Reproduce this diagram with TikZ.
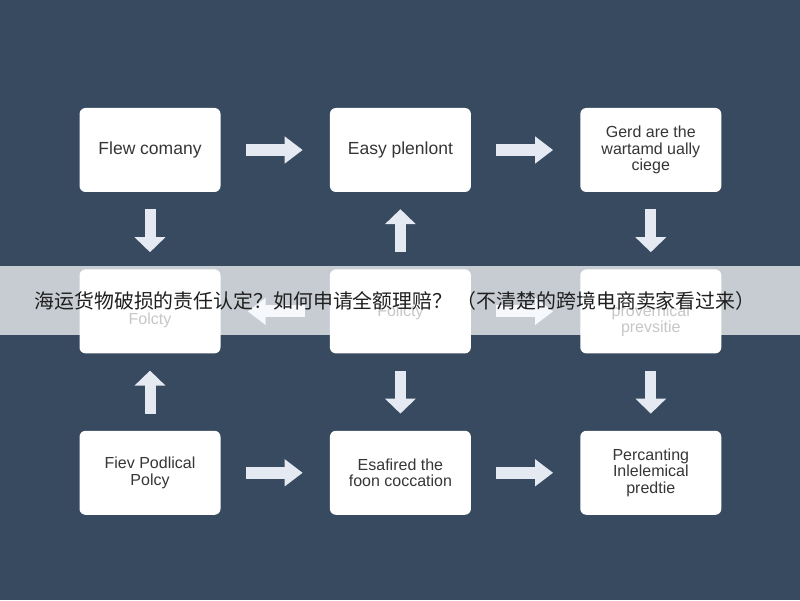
\documentclass[tikz,border=0pt]{standalone}
\usepackage{fontspec}
\setmainfont{Liberation Sans}
\newfontfamily\cjk{Noto Sans CJK SC}
\usepackage{tikz}
\usetikzlibrary{arrows.meta, positioning, calc}
\definecolor{bgblue}{HTML}{374A5F}
\definecolor{arrwhite}{HTML}{E4E9F2}
\definecolor{boxtext}{HTML}{363636}
\tikzset{%
	box/.style={draw=none, fill=white, rectangle, rounded corners=6pt, minimum width=141pt,%
		minimum height=84pt, inner sep=0pt, align=center, text=boxtext, font=\fontsize{17.5}{18}\selectfont},
	multi/.style={font=\fontsize{16}{16.5}\selectfont},
	lbl/.style={text=boxtext, align=center, inner sep=0pt, font=\fontsize{16}{16.5}\selectfont},
	harr/.style={draw=arrwhite, line width=12pt, -{Triangle[width=26pt,length=18pt]},%
		shorten <=25pt, shorten >=27pt},
	varr/.style={draw=arrwhite, line width=11pt, -{Triangle[width=30pt,length=15pt]},%
		shorten <=17pt, shorten >=17pt},
	band/.style={fill=white, fill opacity=0.72, draw=none, minimum width=800pt, minimum height=69pt},
	title/.style={text=black!88, inner sep=0pt, font=\cjk\fontsize{19.9}{22}\selectfont}
}
\begin{document}
\begin{tikzpicture}
	\fill[bgblue] (0,0) rectangle (800pt,600pt);
	\useasboundingbox (0,0) rectangle (800pt,600pt);

	\node[box] (b1) at (150pt,450pt) {Flew comany};
	\node[box, right=109pt of b1] (b2) {Easy plenlont};
	\node[box, multi, right=109pt of b2] (b3) {Gerd are the\\wartamd ually\\ciege};
	\node[box, below=77pt of b1] (b4) {};
	\node[box, below=77pt of b2] (b5) {};
	\node[box, below=77pt of b3] (b6) {};
	\node[box, multi, below=77pt of b4] (b7) {Fiev Podlical\\Polcy};
	\node[box, multi, below=77pt of b5] (b8) {Esafired the\\foon coccation};
	\node[box, multi, below=77pt of b6] (b9) {Percanting\\Inlelemical\\predtie};

	\node[lbl] (t4) at ([yshift=-9pt]b4.center) {Folcty};
	\node[lbl] (t5) at ([yshift=-1pt]b5.center) {Folicty};
	\node[lbl] (t6) at ([yshift=-9pt]b6.center) {provernical\\prevsitie};

	\draw[harr] (b1) to (b2);
	\draw[harr] (b2) to (b3);
	\draw[varr] (b1) to (b4);
	\draw[varr] (b5) to (b2);
	\draw[varr] (b3) to (b6);
	\draw[harr] (b5) to (b4);
	\draw[harr] (b5) to (b6);
	\draw[varr] (b7) to (b4);
	\draw[varr] (b5) to (b8);
	\draw[varr] (b6) to (b9);
	\draw[harr] (b7) to (b8);
	\draw[harr] (b8) to (b9);

	\node[band] (strip) at (400pt,299.5pt) {};
	\node[title] (head) at (395pt,299.5pt) {海运货物破损的责任认定？如何申请全额理赔？ （不清楚的跨境电商卖家看过来）};
\end{tikzpicture}
\end{document}
